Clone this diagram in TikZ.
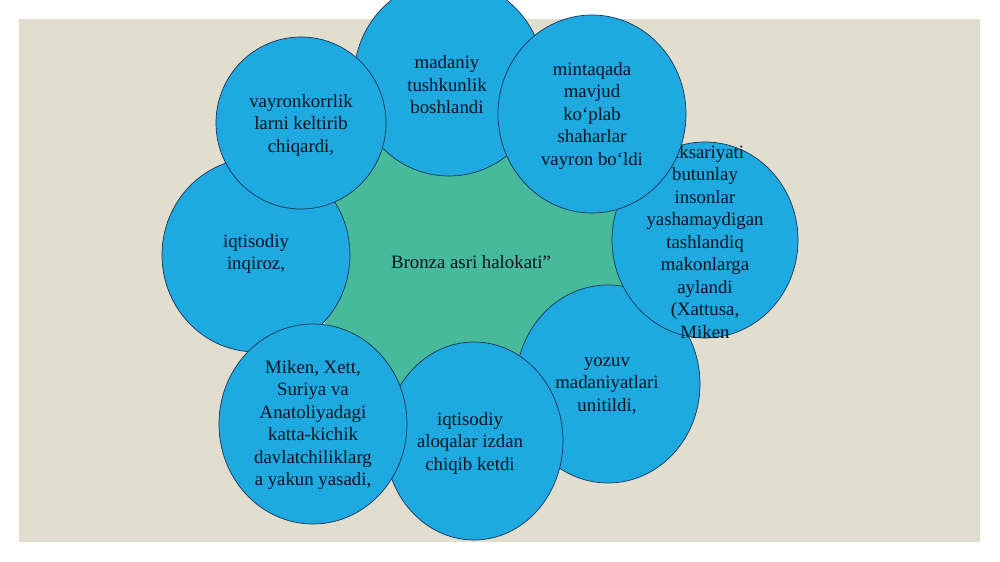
\documentclass[tikz,border=0pt]{standalone}
\usepackage{fontspec}
\setmainfont{Liberation Serif}
\usepackage{xcolor}
\definecolor{Pool Blue}{HTML}{1EA9E1}
\definecolor{Deep Navy}{HTML}{1B3553}
\definecolor{Sea Green}{HTML}{46BA9A}
\definecolor{Parchment}{HTML}{E1DDCF}
\definecolor{Ink}{HTML}{0B1420}
\colorlet{cBlue}{Pool Blue}
\colorlet{cEdge}{Deep Navy}
\colorlet{cGreen}{Sea Green}
\colorlet{cBeige}{Parchment}
\colorlet{cInk}{Ink}
\usepackage{tikz}
\usetikzlibrary{shapes.geometric}
\tikzset{
	line width = .6pt,
	bubble/.style={
		draw=cEdge,
		fill=cBlue,
		ellipse,
		inner sep=0pt,
		outer sep=0pt
	},
	hub/.style={
		fill=cGreen,
		ellipse,
		inner sep=0pt
	},
	caption/.style={
		align=center,
		text=cInk,
		inner sep=0pt,
		font=\fontsize{10.7}{12.8}\selectfont
	}
}

\begin{document}
\begin{tikzpicture}
		\useasboundingbox (0,0) rectangle (20,-11.24);
		\fill[cBeige] (0.38,-0.38) rectangle (19.6,-10.84);

		% centre
		\node[hub, minimum width=6.2cm, minimum height=6.6cm] (hub) at (9.4,-5.3) {};

		% ring, back to front
		\node[bubble, minimum width=3.8cm, minimum height=3.92cm] (madaniy) at (8.98,-1.56) {};
		\node[caption] (madaniytext) at (8.94,-1.70) {madaniy\\tushkunlik\\boshlandi};

		\node[bubble, minimum width=3.76cm, minimum height=3.88cm] (inqiroz) at (5.12,-5.10) {};
		\node[caption] (inqiroztext) at (5.12,-5.08) {iqtisodiy\\inqiroz,};

		\node[bubble, minimum width=3.68cm, minimum height=3.96cm] (yozuv) at (12.16,-7.68) {};
		\node[caption] (yozuvtext) at (12.14,-7.72) {yozuv\\madaniyatlari\\unitildi,};

		\node[bubble, minimum width=3.56cm, minimum height=3.96cm] (aloqa) at (9.48,-8.82) {};
		\node[caption] (aloqatext) at (9.40,-8.86) {iqtisodiy\\aloqalar izdan\\chiqib ketdi};

		\node[bubble, minimum width=3.76cm, minimum height=4cm] (miken) at (6.26,-8.48) {};
		\node[caption] (mikentext) at (6.26,-8.50) {Miken, Xett,\\Suriya va\\Anatoliyadagi\\katta-kichik\\davlatchiliklarg\\a yakun yasadi,};

		\node[bubble, minimum width=3.4cm, minimum height=3.44cm] (vayron) at (6.02,-2.46) {};
		\node[caption] (vayrontext) at (6.02,-2.50) {vayronkorrlik\\larni keltirib\\chiqardi,};

		\node[bubble, minimum width=3.72cm, minimum height=3.92cm] (aksar) at (14.10,-4.80) {};
		\node[caption] (aksartext) at (14.10,-4.84) {Aksariyati\\butunlay\\insonlar\\yashamaydigan\\tashlandiq\\makonlarga\\aylandi\\(Xattusa,\\Miken};

		\node[bubble, minimum width=3.76cm, minimum height=3.96cm] (mintaqa) at (11.84,-2.28) {};
		\node[caption] (mintaqatext) at (11.84,-2.32) {mintaqada\\mavjud\\ko‘plab\\shaharlar\\vayron bo‘ldi};

		\node[caption] (hubtext) at (9.42,-5.24) {Bronza asri halokati”};
	\end{tikzpicture}
\end{document}
